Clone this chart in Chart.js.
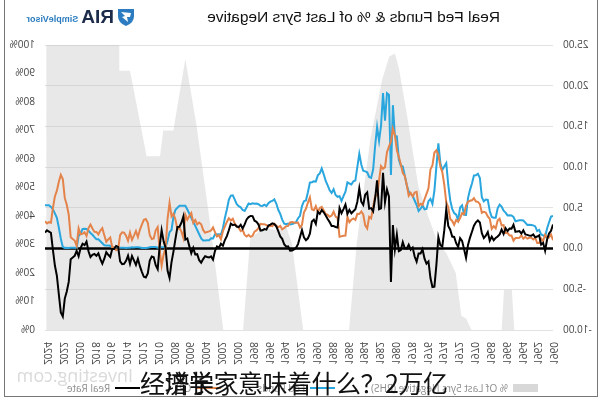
<!DOCTYPE html>
<html>
<head>
<meta charset="utf-8">
<script src="https://cdn.jsdelivr.net/npm/chart.js@4.4.1/dist/chart.umd.min.js"></script>
<style>
    body { margin: 0; background: #fff; }
    #wrap { position: relative; width: 600px; height: 400px; transform: scaleX(-1); overflow: hidden; }
    #frame { position: absolute; left: 2px; top: -1px; width: 594px; height: 398px; border: 1px solid #777; box-sizing: border-box; pointer-events: none; }
    #title { position: absolute; left: 100px; top: 8px; font: 15.5px "Liberation Sans", Arial, sans-serif; color: #111; white-space: nowrap; }
    #logo { position: absolute; left: 465px; top: 6px; display: flex; align-items: center; white-space: nowrap; }
    #logo .ria { font: bold 19px "Liberation Sans", Arial, sans-serif; color: #1c2b4a; margin-left: 3px; }
    #logo .sv { font: bold 9px "Liberation Sans", Arial, sans-serif; color: #2b7cc0; margin-left: 3px; margin-top: 4px; }
    #watermark { position: absolute; left: 467px; top: 363px; font: 18px "Open Sans", sans-serif; color: #dadada; white-space: nowrap; }
    #legend { position: absolute; left: 62px; top: 381px; display: flex; align-items: center; gap: 36px; font: 10px "Open Sans", sans-serif; color: #8c8c8c; white-space: nowrap; }
    #legend .item { display: flex; align-items: center; gap: 5px; }
    .cap { position: absolute; left: 140px; top: 364px; font: 400 25px "Noto Sans CJK SC", sans-serif; color: #111; white-space: nowrap; letter-spacing: -0.5px; }
</style>
</head>
<body>
<div id="wrap">
    <canvas id="chart" width="600" height="400"></canvas>
    <div id="title">Real Fed Funds &amp; % of Last 5yrs Negative</div>
    <div id="logo">
        <svg width="18" height="20" viewBox="0 0 18 20"><path d="M1 2 L17 2 L17 9 Q17 16 9 19 Q1 16 1 9 Z" fill="#2b7cc0"/><path d="M4 6 L14 5 L10 9 L13 10 L7 15 L8 10 L5 10 Z" fill="#fff"/></svg>
        <span class="ria">RIA</span><span class="sv">SimpleVisor</span>
    </div>
    <div id="watermark">Investing.com</div>
    <div id="legend"></div>
    <div id="frame"></div>
</div>
<div class="cap">经济学家意味着什么？2万亿</div>
<div class="cap">　增长</div>
<script>
// quarterly values, first point 1960 Q1
const startYear = 1960;
const fedFunds = [
    3.99, 3.92, 3.23, 2.47, 1.45, 1.62, 1.73, 2.29, 2.15, 2.72, 2.85, 2.90, 2.92, 2.90, 3.18, 3.45,
    3.48, 3.47, 3.42, 3.36, 3.90, 4.07, 4.08, 4.07, 4.42, 4.65, 5.17, 5.40, 4.94, 3.79, 3.79, 3.88,
    4.61, 5.98, 6.02, 5.80, 6.30, 8.67, 9.19, 9.00, 8.98, 7.99, 7.21, 6.20, 4.14, 4.15, 5.31, 5.04,
    3.50, 4.17, 4.35, 4.87, 5.94, 7.84, 10.50, 10.09, 9.65, 10.51, 12.92, 10.06, 7.13, 5.49, 6.10, 5.82,
    4.87, 4.82, 5.28, 4.90, 4.61, 5.35, 5.90, 6.51, 6.70, 6.98, 7.81, 8.96, 10.07, 10.18, 10.94, 13.77,
    13.82, 17.61, 9.03, 18.90, 19.08, 15.72, 19.10, 15.08, 13.22, 14.94, 12.59, 9.71, 8.68, 8.80, 9.37, 9.48,
    9.56, 10.32, 11.64, 9.99, 8.35, 8.27, 7.88, 7.99, 8.14, 6.99, 6.43, 5.85, 6.43, 6.36, 6.58, 7.29,
    6.83, 7.15, 7.75, 8.30, 9.12, 9.84, 9.24, 8.99, 8.23, 8.26, 8.15, 8.11, 6.91, 5.91, 5.82, 5.21,
    4.03, 3.73, 3.25, 3.09, 3.02, 2.96, 3.06, 2.99, 3.05, 3.56, 4.26, 4.76, 5.53, 6.05, 5.85, 5.76,
    5.56, 5.22, 5.40, 5.24, 5.25, 5.45, 5.52, 5.50, 5.56, 5.45, 5.54, 5.07, 4.63, 4.74, 5.07, 5.20,
    5.45, 6.02, 6.54, 6.51, 5.98, 4.80, 3.77, 2.49, 1.73, 1.75, 1.73, 1.75, 1.24, 1.26, 1.01, 1.01,
    1.00, 1.00, 1.26, 1.76, 2.28, 2.79, 3.26, 3.78, 4.29, 4.79, 5.25, 5.25, 5.25, 5.25, 5.02, 4.76,
    3.94, 2.28, 2.01, 0.97, 0.15, 0.15, 0.16, 0.12, 0.11, 0.20, 0.18, 0.19, 0.17, 0.10, 0.07, 0.07,
    0.08, 0.14, 0.16, 0.16, 0.14, 0.15, 0.09, 0.09, 0.07, 0.09, 0.09, 0.09, 0.11, 0.12, 0.13, 0.12,
    0.34, 0.37, 0.39, 0.40, 0.65, 0.90, 1.15, 1.15, 1.41, 1.69, 1.91, 2.19, 2.40, 2.42, 2.40, 1.83,
    1.55, 0.05, 0.09, 0.09, 0.09, 0.07, 0.10, 0.08, 0.20, 1.21, 2.56, 3.78, 4.33, 4.83, 5.12, 5.33,
    5.33, 5.33
];
const cpi = [
    1.03, 1.73, 1.37, 1.36, 1.71, 0.92, 1.25, 0.67, 0.67, 1.33, 1.12, 1.33, 1.33, 1.22, 1.44, 1.21,
    1.64, 1.32, 1.31, 1.31, 0.97, 1.62, 1.62, 1.93, 1.92, 2.87, 2.84, 3.66, 3.46, 2.48, 2.76, 2.42,
    3.65, 3.95, 4.43, 4.51, 4.40, 5.46, 5.74, 5.78, 6.18, 5.93, 5.87, 5.75, 5.28, 4.22, 4.36, 3.76,
    3.30, 3.51, 2.92, 3.39, 3.62, 5.06, 5.66, 7.83, 9.39, 10.09, 11.51, 12.06, 11.80, 10.21, 9.72, 7.40,
    6.72, 6.06, 5.36, 5.50, 5.22, 6.96, 6.88, 6.39, 6.84, 6.50, 7.83, 8.93, 9.28, 10.36, 11.26, 12.07,
    13.91, 14.73, 13.13, 12.52, 11.83, 10.00, 9.80, 10.14, 8.39, 6.57, 6.44, 5.14, 3.71, 3.90, 2.46, 2.85,
    4.19, 4.56, 4.24, 4.26, 3.53, 3.69, 3.55, 3.24, 3.89, 1.59, 1.58, 1.51, 1.46, 3.78, 3.93, 4.53,
    4.05, 3.90, 4.13, 4.25, 4.67, 5.11, 4.98, 4.47, 5.20, 4.71, 4.82, 6.29, 5.65, 4.89, 4.45, 2.92,
    2.60, 3.18, 3.16, 3.20, 3.26, 3.22, 2.78, 2.75, 2.52, 2.36, 2.77, 2.61, 2.80, 3.05, 2.76, 2.81,
    2.73, 2.89, 3.00, 2.99, 3.04, 2.50, 2.23, 2.08, 1.57, 1.44, 1.68, 1.49, 1.67, 2.28, 2.14, 2.56,
    2.74, 3.07, 3.66, 3.45, 3.73, 3.27, 2.72, 2.13, 1.14, 1.64, 1.47, 2.03, 2.60, 2.22, 2.11, 2.04,
    1.93, 2.29, 2.99, 3.19, 2.97, 3.51, 3.17, 4.35, 3.99, 3.55, 4.15, 1.31, 2.08, 2.57, 2.36, 3.54,
    4.28, 3.94, 5.60, 3.66, 0.03, -0.74, -2.10, -0.18, 2.63, 2.24, 1.24, 1.17, 1.63, 3.16, 3.63, 3.53,
    2.93, 2.30, 1.41, 2.16, 1.59, 1.06, 1.96, 0.96, 1.58, 1.95, 1.99, 1.66, -0.09, -0.20, 0.17, 0.17,
    1.37, 1.13, 0.83, 1.64, 2.50, 2.20, 1.73, 2.04, 2.07, 2.46, 2.95, 2.52, 1.55, 2.00, 1.81, 1.76,
    2.49, 0.33, 0.99, 1.18, 1.40, 4.16, 5.37, 6.22, 8.54, 9.06, 8.20, 7.11, 6.41, 4.98, 3.18, 3.24,
    3.09, 3.36
];
const realRate = [
    2.96, 2.19, 1.86, 1.11, -0.26, 0.70, 0.48, 1.62, 1.48, 1.39, 1.73, 1.57, 1.59, 1.68, 1.74, 2.24,
    1.84, 2.15, 2.11, 2.05, 2.93, 2.45, 2.46, 2.14, 2.50, 1.78, 2.33, 1.74, 1.48, 1.31, 1.03, 1.46,
    0.96, 2.03, 1.59, 1.29, 1.90, 3.21, 3.45, 3.22, 2.80, 2.06, 1.34, 0.45, -1.14, -0.07, 0.95, 1.28,
    0.20, 0.66, 1.43, 1.48, 2.32, 2.78, 4.84, 2.26, 0.26, 0.42, 1.41, -2.00, -4.67, -4.72, -3.62, -1.58,
    -1.85, -1.24, -0.08, -0.60, -0.61, -1.61, -0.98, 0.12, -0.14, 0.48, -0.02, 0.03, 0.79, -0.18, -0.32, 1.70,
    -0.09, 2.88, -4.10, 6.38, 7.25, 5.72, 9.30, 4.94, 4.83, 8.37, 6.15, 4.57, 4.97, 4.90, 6.91, 6.63,
    5.37, 5.76, 7.40, 5.73, 4.82, 4.58, 4.33, 4.75, 4.25, 5.40, 4.85, 4.34, 4.97, 2.58, 2.65, 2.76,
    2.78, 3.25, 3.62, 4.05, 4.45, 4.73, 4.26, 4.52, 3.03, 3.55, 3.33, 1.82, 1.26, 1.02, 1.37, 2.29,
    1.43, 0.55, 0.09, -0.11, -0.24, -0.26, 0.28, 0.24, 0.53, 1.20, 1.49, 2.15, 2.73, 3.00, 3.09, 2.95,
    2.83, 2.33, 2.40, 2.25, 2.21, 2.95, 3.29, 3.42, 3.99, 4.01, 3.86, 3.58, 2.96, 2.46, 2.93, 2.64,
    2.71, 2.95, 2.88, 3.06, 2.25, 1.53, 1.05, 0.36, 0.59, 0.11, 0.26, -0.28, -1.36, -0.96, -1.10, -1.03,
    -0.93, -1.29, -1.73, -1.43, -0.69, -0.72, 0.09, -0.57, 0.30, 1.24, 1.10, 3.94, 3.17, 2.68, 2.66, 1.22,
    -0.34, -1.66, -3.59, -2.69, 0.12, 0.89, 2.26, 0.30, -2.52, -2.04, -1.06, -0.98, -1.46, -3.06, -3.56, -3.46,
    -2.85, -2.16, -1.25, -2.00, -1.45, -0.91, -1.87, -0.87, -1.51, -1.86, -1.90, -1.57, 0.20, 0.32, -0.04, -0.05,
    -1.03, -0.76, -0.44, -1.24, -1.85, -1.30, -0.58, -0.89, -0.66, -0.77, -1.04, -0.33, 0.85, 0.42, 0.59, 0.07,
    -0.94, -0.28, -0.90, -1.09, -1.31, -4.09, -5.27, -6.14, -8.34, -7.85, -5.64, -3.33, -2.08, -0.15, 1.94, 2.09,
    2.24, 1.97
];
// % of the last 5 years with a negative real rate (right axis)
const negYears = [1960, 1964.9, 1965.2, 1966.2, 1966.5, 1970.3, 1971.0, 1971.6, 1972.3, 1973.5, 1974.5,
    1975.8, 1977.0, 1978.5, 1979.5, 1980.0, 1980.7, 1981.6, 1983.1, 1984.8, 1985.8, 1991.6, 1993.0,
    1993.7, 1995.0, 1996.6, 1998.3, 1999.2, 2001.7, 2003.5, 2005.1, 2006.5, 2007.9, 2008.0, 2009.3,
    2009.7, 2011.4, 2013.5, 2014.8, 2014.85, 2024.1];
const negPct = [0, 0, 14, 14, 0, 0, 4, 5, 20, 27, 30,
    40, 50, 76, 92, 97, 96, 88, 67, 31, 0, 0, 30,
    36, 35, 36, 32, 0, 0, 40, 72, 95, 72, 70, 70,
    61, 61, 91, 91, 100, 100];

const legendNames = ['% Of Last 5yrs Negative (RHS)', 'Fed Funds', 'CPI', 'Real Rate'];
const seriesColors = ['rgba(190,190,190,0.35)', '#2aa6de', '#e4834a', '#000'];

function toPoints(values) {
    return values.map((v, i) => ({ x: startYear + i / 4, y: v }));
}

const zeroLine = {
    id: 'zeroLine',
    afterDatasetDraw(chart, args) {
        if (args.index !== 0) return;
        const y = chart.scales.y.getPixelForValue(0);
        const ctx = chart.ctx;
        ctx.save();
        ctx.strokeStyle = '#000';
        ctx.lineWidth = 2.5;
        ctx.beginPath();
        ctx.moveTo(chart.chartArea.left, y);
        ctx.lineTo(chart.chartArea.right, y);
        ctx.stroke();
        ctx.restore();
    }
};

const tickFont = { family: 'Open Sans', size: 10 };

const chart = new Chart(document.getElementById('chart'), {
    type: 'line',
    data: {
        datasets: [
            {
                label: legendNames[0],
                data: negYears.map((yr, i) => ({ x: yr, y: negPct[i] })),
                yAxisID: 'y1',
                borderWidth: 0,
                borderColor: 'rgba(0,0,0,0)',
                backgroundColor: seriesColors[0],
                fill: 'origin',
                order: 10
            },
            {
                label: legendNames[1],
                data: toPoints(fedFunds),
                yAxisID: 'y',
                borderColor: seriesColors[1],
                borderWidth: 2,
                order: 3
            },
            {
                label: legendNames[2],
                data: toPoints(cpi),
                yAxisID: 'y',
                borderColor: seriesColors[2],
                borderWidth: 2,
                order: 2
            },
            {
                label: legendNames[3],
                data: toPoints(realRate),
                yAxisID: 'y',
                borderColor: seriesColors[3],
                borderWidth: 2,
                order: 1
            }
        ]
    },
    options: {
        responsive: false,
        animation: false,
        devicePixelRatio: 1,
        elements: { point: { radius: 0 }, line: { tension: 0 } },
        layout: { padding: { top: 45, left: 7, right: 5, bottom: 26 } },
        plugins: {
            title: { display: false },
            tooltip: { enabled: false },
            legend: { display: false }
        },
        scales: {
            x: {
                type: 'linear',
                min: 1960,
                max: 2024.25,
                grid: { display: false },
                border: { display: false },
                afterFit: s => { s.height = 44; },
                ticks: {
                    stepSize: 2,
                    includeBounds: false,
                    autoSkip: false,
                    minRotation: 90,
                    maxRotation: 90,
                    padding: 4,
                    color: '#444',
                    font: tickFont,
                    callback: v => String(v)
                }
            },
            y: {
                position: 'left',
                min: -10,
                max: 25,
                border: { display: false },
                afterFit: s => { s.width = 40; },
                grid: { color: '#e2e2e2', drawTicks: false },
                ticks: {
                    stepSize: 5,
                    padding: 10,
                    color: '#444',
                    font: tickFont,
                    callback: v => v.toFixed(2)
                }
            },
            y1: {
                position: 'right',
                min: 0,
                max: 100,
                border: { display: false },
                afterFit: s => { s.width = 40; },
                grid: { display: false, drawTicks: false },
                ticks: {
                    stepSize: 10,
                    padding: 10,
                    color: '#444',
                    font: tickFont,
                    callback: v => v + '%'
                }
            }
        }
    },
    plugins: [zeroLine]
});

// legend row under the axis
const legendBox = document.getElementById('legend');
chart.data.datasets.forEach((ds, i) => {
    const item = document.createElement('div');
    item.className = 'item';
    const swatch = document.createElement('span');
    swatch.style.display = 'inline-block';
    swatch.style.width = '25px';
    if (i === 0) {
        swatch.style.height = '8px';
        swatch.style.background = 'rgba(190,190,190,0.6)';
    } else {
        swatch.style.height = '2px';
        swatch.style.background = seriesColors[i];
    }
    const text = document.createElement('span');
    text.textContent = legendNames[i];
    item.appendChild(swatch);
    item.appendChild(text);
    legendBox.appendChild(item);
});
</script>
</body>
</html>
